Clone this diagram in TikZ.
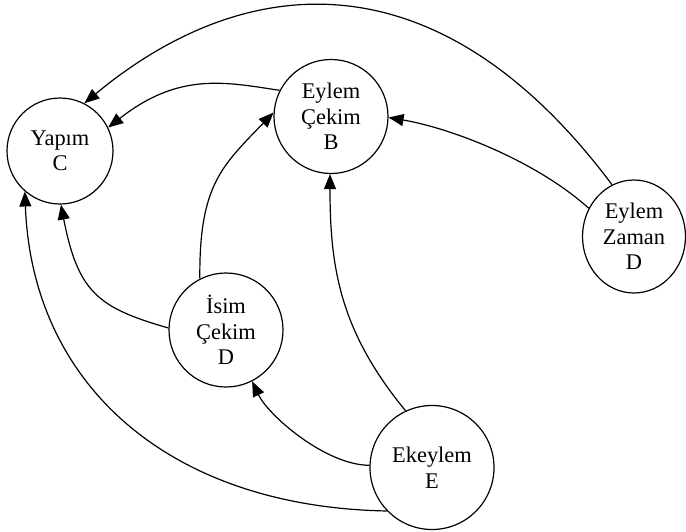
\documentclass[tikz,border=0pt]{standalone}
\usepackage{fontspec}
\setmainfont{Liberation Serif}
\usetikzlibrary{arrows.meta,shapes.geometric}

\begin{document}
\begin{tikzpicture}[x=0.5pt,y=-0.5pt,
  state/.style={draw, circle, line width=0.6pt, inner sep=0pt, align=center,
    font=\fontsize{11.2}{12.75}\selectfont},
  link/.style={line width=0.6pt, -{Triangle[length=7.5pt,width=6pt]}}]
  \fill[white] (0,0) rectangle (686,531);
  \useasboundingbox (0,0) rectangle (686,531);

  % states
  \node[state, minimum size=53pt] (c) at (60,151) {Yapım\\C};
  \node[state, minimum size=57pt] (b) at (331,116.5) {Eylem\\Çekim\\B};
  \node[state, ellipse, minimum width=51.5pt, minimum height=56.5pt] (zd) at (634,236.5) {Eylem\\Zaman\\D};
  \node[state, minimum size=57pt] (id) at (226,330) {İsim\\Çekim\\D};
  \node[state, minimum size=62pt] (e) at (432,467.5) {Ekeylem\\E};

  % transitions
  \draw[link] (zd.113) .. controls (438,-48) and (245,-30) .. (c.63);
  \draw[link] (b.153) .. controls (225,82) and (179,72) .. (c.26);
  \draw[link] (zd.148) .. controls (535,160) and (450,128) .. (b.-1);
  \draw[link] (id.117) .. controls (199,185) and (222,166) .. (b.176);
  \draw[link] (id.178) .. controls (99,308) and (78,293) .. (c.-89);
  \draw[link] (e.-136) .. controls (168,507) and (32,384) .. (c.-131);
  \draw[link] (e.178) .. controls (325,465) and (268,415) .. (id.-63);
  \draw[link] (e.115) .. controls (340,331) and (330,268) .. (b.-91);
\end{tikzpicture}
\end{document}
